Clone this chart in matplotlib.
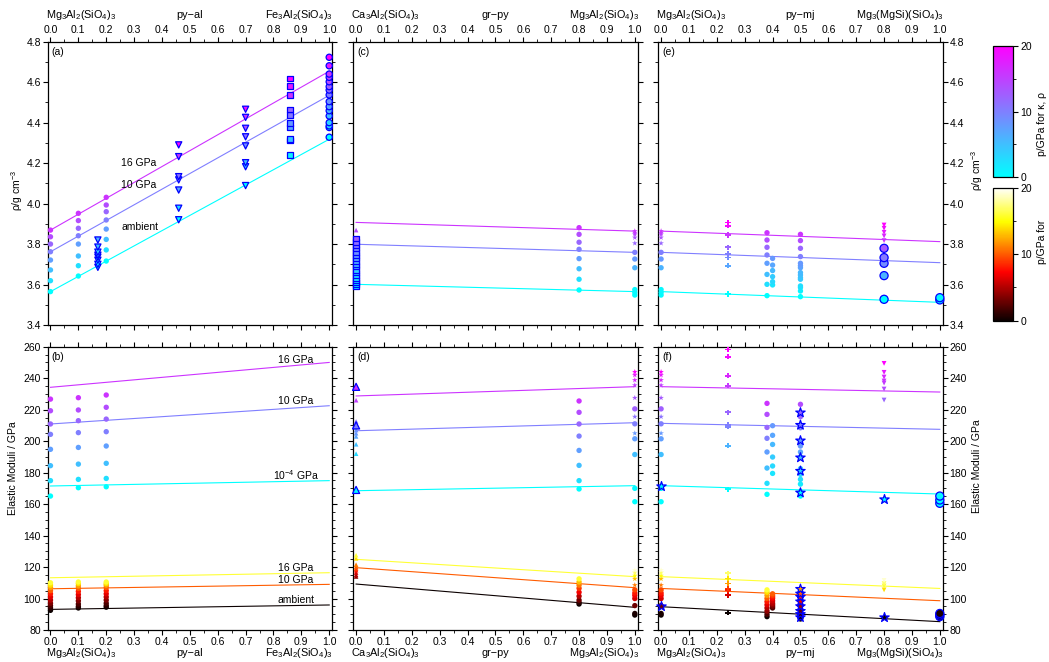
import numpy as np
import matplotlib
matplotlib.use('Agg')
import matplotlib.pyplot as plt
from matplotlib.ticker import MultipleLocator
from matplotlib.cm import ScalarMappable
from matplotlib.colors import Normalize

plt.rcParams['font.family'] = ['Liberation Sans', 'DejaVu Sans']
plt.rcParams['mathtext.default'] = 'regular'
plt.rcParams['font.size'] = 7.5
plt.rcParams['axes.linewidth'] = 0.9

### Data ###
# fitted trends: (pressure GPa, value at x=0, value at x=1)
a_lines = [(0, 3.565, 4.318), (10, 3.762, 4.535), (16, 3.869, 4.654)]
c_lines = [(0, 3.601, 3.565), (10, 3.799, 3.759), (16, 3.907, 3.864)]
e_lines = [(0, 3.565, 3.512), (10, 3.759, 3.708), (16, 3.864, 3.812)]
b_lines_K = [(0, 171.5, 174.9), (10, 210.9, 222.5), (16, 234.2, 250.0)]
b_lines_G = [(0, 93.1, 95.9), (10, 106.2, 109.0), (16, 113.2, 116.4)]
d_lines_K = [(0, 168.5, 171.7), (10, 206.6, 211.7), (16, 228.7, 234.6)]
d_lines_G = [(0, 109.2, 94.4), (10, 119.6, 106.9), (16, 124.9, 113.9)]
f_lines_K = [(0, 171.7, 166.4), (10, 211.3, 207.5), (16, 234.6, 231.2)]
f_lines_G = [(0, 94.8, 85.3), (10, 106.4, 98.6), (16, 113.9, 106.4)]

p8 = [0, 2.5, 5, 7.5, 10, 12, 14, 16]

# pyrope end-member, shared by the gr-py and py-mj joins
py_rho_dot = [3.548, 3.561, 3.575, 3.683, 3.726, 3.759]
py_rho_dot_p = [0, 0.3, 0.5, 6, 8, 10]
py_rho_star = [3.804, 3.832, 3.848, 3.856, 3.864]
py_rho_star_p = [12, 13.5, 14.5, 15.2, 16]
py_K_dot = [161.5, 170, 191.5, 201.5, 211, 220.5]
py_K_dot_p = [0, 0.5, 5, 7.5, 10, 12.5]
py_K_star = [205, 215.5, 227.5, 235.5, 238.8, 242, 244]
py_K_star_p = [8, 11, 13, 15, 17, 18, 20]
py_G_dot = [89.5, 90.5, 95.5, 100, 102, 103.5, 105.5]
py_G_dot_p = [0, 0.5, 3, 6, 7, 8, 9.5]
py_G_star = [108.5, 112.5, 114.5, 116.5, 118]
py_G_star_p = [11, 13, 15, 17, 19]

# (a) density, py-al
a_dot = [(0.0, [3.565, 3.619, 3.672, 3.721, 3.762, 3.80, 3.836, 3.869], p8),
         (0.1, [3.642, 3.693, 3.741, 3.80, 3.841, 3.878, 3.916, 3.952], p8),
         (0.2, [3.716, 3.771, 3.823, 3.874, 3.919, 3.96, 3.993, 4.031], p8)]
a_tri = [(0.17, [3.685, 3.70, 3.72, 3.735, 3.745, 3.76, 3.785, 3.82], [0, 0.5, 1, 2, 3, 4, 5, 6]),
         (0.46, [3.92, 3.977, 4.067, 4.117, 4.133, 4.232, 4.29], [0, 2.5, 7, 10, 11, 16, 20]),
         (0.70, [4.089, 4.182, 4.202, 4.285, 4.33, 4.372, 4.426, 4.466], [0, 4, 5, 9, 11, 13.5, 16, 19])]
a_sq = [(0.86, [4.24, 4.311, 4.319, 4.377, 4.397, 4.438, 4.466, 4.537, 4.581, 4.619],
         [1, 4, 4.5, 7, 8, 10.5, 12, 16, 18, 20])]
a_ring = [(1.0, [4.328, 4.376, 4.384, 4.40, 4.433, 4.459, 4.479, 4.504, 4.537, 4.561,
                 4.578, 4.602, 4.624, 4.64, 4.681, 4.723],
           [0, 2, 3, 3.5, 5, 6, 7, 8.5, 10, 11.5, 12.5, 14, 15, 16, 18, 20])]

# (b) elastic moduli, py-al
b_dot = [(0.0, [165.1, 174.9, 184.4, 194.8, 204.3, 210.9, 219.3, 226.7], p8),
         (0.1, [170.4, 175.7, 185.4, 196.0, 205.4, 213.0, 219.8, 227.6], p8),
         (0.2, [171.0, 176.3, 185.9, 196.9, 206.0, 214.0, 221.5, 229.3], p8)]
b_dot_G = [(0.0, [92.5, 94, 95.5, 97, 99, 101, 103, 105, 107, 108.5, 110],
            [0, 1, 2, 3.5, 5, 6.5, 8, 10, 12, 14, 16]),
           (0.1, [94, 95, 96.5, 98.5, 100.5, 102.5, 104.5, 106.5, 108, 109.5, 110.5],
            [0, 1, 2, 3.5, 5, 6.5, 8, 10, 12, 14, 16]),
           (0.2, [94.5, 95.5, 97, 99, 101, 103, 105, 107, 108.5, 109.5, 110.5],
            [0, 1, 2, 3.5, 5, 6.5, 8, 10, 12, 14, 16])]

# (c) density, gr-py
c_sq = [(0.0, [3.593, 3.60, 3.61, 3.62, 3.632, 3.645, 3.66, 3.672, 3.688, 3.70, 3.715,
               3.73, 3.745, 3.76, 3.777, 3.795, 3.81, 3.828],
         [0, 0.3, 0.7, 1.2, 2, 2.6, 3.3, 4, 4.8, 5.5, 6.3, 7, 7.8, 8.6, 9.5, 10.5, 11.3, 12.3])]
c_tri = [(0.0, [3.869], [14])]
c_dot = [(0.8, [3.573, 3.626, 3.678, 3.728, 3.774, 3.809, 3.848, 3.881], p8),
         (1.0, py_rho_dot, py_rho_dot_p)]
c_star = [(1.0, py_rho_star, py_rho_star_p)]

# (d) elastic moduli, gr-py
d_bigtri = [(0.0, [169.0, 210.0, 234.5], [0, 10, 16])]
d_tri = [(0.0, [192, 198, 203, 205, 207, 209, 212.5, 226], [3, 5, 7, 8, 8.5, 9.5, 11, 15])]
d_tri_G = [(0.0, [114, 115, 116.5, 118, 119, 120, 121.5, 125.5, 127.5], [4, 5, 6, 8, 9, 10, 11, 14, 16])]
d_dot = [(0.8, [169.6, 174.9, 184.6, 194.1, 203.2, 210.9, 218.3, 225.5], p8),
         (1.0, py_K_dot, py_K_dot_p)]
d_dot_G = [(0.8, [96.5, 97.5, 99, 101.5, 104, 106.5, 108.5, 110.5, 112.5], [0, 1, 3, 5, 7, 9, 11, 13, 16]),
           (1.0, py_G_dot, py_G_dot_p)]
d_star = [(1.0, py_K_star, py_K_star_p)]
d_star_G = [(1.0, py_G_star, py_G_star_p)]

# (e) density, py-mj
e_dot = [(0.0, py_rho_dot, py_rho_dot_p),
         (0.38, [3.545, 3.601, 3.65, 3.705, 3.746, 3.784, 3.82, 3.856], p8),
         (0.40, [3.598, 3.614, 3.639, 3.669, 3.696, 3.729], [2, 3, 4, 5.5, 7, 8]),
         (0.5, [3.54, 3.568, 3.585, 3.593, 3.626, 3.634, 3.647, 3.659, 3.683, 3.693, 3.705,
                3.738, 3.779, 3.817, 3.848],
          [0, 1, 2, 2.5, 4, 4.5, 5, 5.5, 7, 7.5, 8, 10, 12, 14, 16])]
e_star = [(0.0, py_rho_star, py_rho_star_p)]
e_plus = [(0.24, [3.553, 3.693, 3.733, 3.751, 3.784, 3.845, 3.891, 3.906], [0, 7, 9, 10, 12, 16, 19, 20])]
e_vtri = [(0.8, [3.817, 3.84, 3.858, 3.878, 3.894], [16, 17, 18, 19, 20])]
e_big = [(0.8, [3.527, 3.644, 3.705, 3.733, 3.779], [0, 6, 9, 10.5, 13]),
         (1.0, [3.524, 3.535], [0, 0.5])]

# (f) elastic moduli, py-mj
f_dot = [(0.0, py_K_dot, py_K_dot_p),
         (0.38, [166.2, 173.2, 182.9, 193.1, 201.8, 208.7, 217.0, 224.0], p8),
         (0.40, [179.5, 184.2, 189.9, 197.9, 203.7, 209.8], [2, 3, 4, 5.5, 7, 8]),
         (0.5, [165.1, 167.9, 172.7, 175.7, 178.9, 182.5, 190.1, 193.1, 196.9, 208.5, 215.5, 223.4],
          [0, 0.5, 1.5, 2.5, 3.5, 4.5, 6, 7, 8, 10, 12, 14])]
f_dot_G = [(0.0, py_G_dot, py_G_dot_p),
           (0.38, [88.5, 90, 92, 94, 96, 98, 100, 102, 104, 105.5], [0, 2, 4, 5, 6.5, 8, 10, 12, 14, 16]),
           (0.40, [94, 95, 96, 97, 98.5, 100, 101, 102, 103], [2, 3, 4, 5, 6, 7, 8, 9, 10]),
           (0.5, [87, 89, 91, 93, 95, 97, 99, 101, 103, 104], [0, 1, 2.5, 4, 5.5, 7, 8.5, 10, 11.5, 13])]
f_star = [(0.0, py_K_star, py_K_star_p)]
f_star_G = [(0.0, py_G_star, py_G_star_p)]
f_plus = [(0.24, [169.4, 197.1, 209.2, 210.2, 218.3, 235.2, 241.6, 253.6, 258.3],
           [0, 6, 9.5, 10, 12, 15.5, 17, 19, 20])]
f_plus_G = [(0.24, [91, 102.2, 105.4, 106.4, 109.6, 112.8, 116], [0, 6, 8, 9, 12, 14, 17])]
f_vtri = [(0.8, [226.1, 233.1, 236.9, 238.2, 240.7, 243.7, 249.4], [12, 14, 15, 16, 17, 18, 20])]
f_vtri_G = [(0.8, [105.5, 108, 109.5, 111.5], [14, 16, 17, 19])]
f_bstar = [(0.0, [171.5], [0]),
           (0.5, [167.2, 181.0, 189.5, 200.3, 210.2, 218.1], [0, 3, 5, 7.5, 10, 12]),
           (0.8, [163.2], [0])]
f_bstar_G = [(0.0, [95.2], [3]),
             (0.5, [88, 90, 92, 95, 98, 101, 103, 106], [0, 1, 2.5, 4.5, 6.5, 8.5, 10, 12]),
             (0.8, [88.5], [0])]
f_big = [(1.0, [160.5, 162.6, 165.1], [0, 0, 0.5])]
f_big_G = [(1.0, [88.5, 89.5, 90.5], [0, 0, 0.5])]

# marker styles: (marker, size, blue edge)
STY = {
    'dot': ('o', 15, False),
    'ring': ('o', 20, True),
    'big': ('o', 34, True),
    'tri': ('v', 20, True),
    'vtri': ('v', 12, False),
    'sq': ('s', 16, True),
    'star': ('*', 18, False),
    'bstar': ('*', 50, True),
    'ltri': ('^', 11, False),
    'bigtri': ('^', 26, True),
    'plus': ('P', 14, False),
}

W, H = 1049, 662
fig = plt.figure(figsize=(W / 100, H / 100), dpi=100)


def box(left, top, right, bottom):
    return [left / W, 1 - bottom / H, (right - left) / W, (bottom - top) / H]


ax_a = fig.add_axes(box(47.7, 41.7, 332, 325))
ax_b = fig.add_axes(box(47.7, 346.7, 332, 630))
ax_c = fig.add_axes(box(353.3, 41.7, 637.6, 325))
ax_d = fig.add_axes(box(353.3, 346.7, 637.6, 630))
ax_e = fig.add_axes(box(658.3, 41.7, 942.6, 325))
ax_f = fig.add_axes(box(658.3, 346.7, 942.6, 630))


def draw_lines(ax, lines, cmap):
    for p, y0, y1 in lines:
        ax.plot([0, 1], [y0, y1], color=plt.get_cmap(cmap)(p / 20), lw=0.8, zorder=2)


def draw_pts(ax, series, style, cmap):
    marker, s, edge = STY[style]
    for x, vals, ps in series:
        ax.scatter(np.full(len(vals), x), vals, c=ps, cmap=cmap, vmin=0, vmax=20,
                   marker=marker, s=s, edgecolors='#0000ff' if edge else 'none',
                   linewidths=0.9 if edge else 0, zorder=3, clip_on=False)


def setup(ax, top, yside, ylim, ymaj, ymin, letter):
    ax.set_xlim(-0.01, 1.01)
    ax.set_ylim(*ylim)
    ax.xaxis.set_major_locator(MultipleLocator(0.1))
    ax.xaxis.set_minor_locator(MultipleLocator(0.05))
    ax.yaxis.set_major_locator(MultipleLocator(ymaj))
    ax.yaxis.set_minor_locator(MultipleLocator(ymin))
    ax.tick_params(which='both', direction='out', top=True, right=True, bottom=True, left=True,
                   labeltop=top, labelbottom=not top,
                   labelleft=(yside == 'left'), labelright=(yside == 'right'),
                   labelsize=7.5, pad=1.5)
    ax.tick_params(which='major', length=3.5, width=0.8)
    ax.tick_params(which='minor', length=2, width=0.6)
    ax.text(0.014, 0.963, letter, transform=ax.transAxes, ha='left', va='center', fontsize=7.5)


def names(ax, top, left, mid, right):
    y = 1.083 if top else -0.093
    ax.text(-0.007, y, left, transform=ax.transAxes, ha='left', va='baseline', fontsize=7.8)
    ax.text(0.5, y, mid, transform=ax.transAxes, ha='center', va='baseline', fontsize=7.8)
    ax.text(1.004, y, right, transform=ax.transAxes, ha='right', va='baseline', fontsize=7.8)


PY = r'Mg$_3$Al$_2$(SiO$_4$)$_3$'
AL = r'Fe$_3$Al$_2$(SiO$_4$)$_3$'
GR = r'Ca$_3$Al$_2$(SiO$_4$)$_3$'
MJ = r'Mg$_3$(MgSi)(SiO$_4$)$_3$'

setup(ax_a, True, 'left', (3.4, 4.8), 0.2, 0.1, '(a)')
setup(ax_c, True, 'none', (3.4, 4.8), 0.2, 0.1, '(c)')
setup(ax_e, True, 'right', (3.4, 4.8), 0.2, 0.1, '(e)')
setup(ax_b, False, 'left', (80, 260), 20, 5, '(b)')
setup(ax_d, False, 'none', (80, 260), 20, 5, '(d)')
setup(ax_f, False, 'right', (80, 260), 20, 5, '(f)')

names(ax_a, True, PY, 'py\u2212al', AL)
names(ax_b, False, PY, 'py\u2212al', AL)
names(ax_c, True, GR, 'gr\u2212py', PY)
names(ax_d, False, GR, 'gr\u2212py', PY)
names(ax_e, True, PY, 'py\u2212mj', MJ)
names(ax_f, False, PY, 'py\u2212mj', MJ)

# (a)
draw_lines(ax_a, a_lines, 'cool')
draw_pts(ax_a, a_dot, 'dot', 'cool')
draw_pts(ax_a, a_tri, 'tri', 'cool')
draw_pts(ax_a, a_sq, 'sq', 'cool')
draw_pts(ax_a, a_ring, 'ring', 'cool')
ax_a.text(0.253, 4.202, '16 GPa', ha='left', va='center')
ax_a.text(0.253, 4.09, '10 GPa', ha='left', va='center')
ax_a.text(0.253, 3.886, 'ambient', ha='left', va='center')

# (b)
draw_lines(ax_b, b_lines_K, 'cool')
draw_lines(ax_b, b_lines_G, 'hot')
draw_pts(ax_b, b_dot, 'dot', 'cool')
draw_pts(ax_b, b_dot_G, 'dot', 'hot')
for txt, y in [('16 GPa', 251.5), ('10 GPa', 225.5), ('10$^{-4}$ GPa', 178.5),
               ('16 GPa', 119.2), ('10 GPa', 111.7), ('ambient', 99.0)]:
    ax_b.text(0.88, y, txt, ha='center', va='center')

# (c)
draw_lines(ax_c, c_lines, 'cool')
draw_pts(ax_c, c_sq, 'sq', 'cool')
draw_pts(ax_c, c_tri, 'ltri', 'cool')
draw_pts(ax_c, c_dot, 'dot', 'cool')
draw_pts(ax_c, c_star, 'star', 'cool')

# (d)
draw_lines(ax_d, d_lines_K, 'cool')
draw_lines(ax_d, d_lines_G, 'hot')
draw_pts(ax_d, d_tri, 'ltri', 'cool')
draw_pts(ax_d, d_bigtri, 'bigtri', 'cool')
draw_pts(ax_d, d_tri_G, 'ltri', 'hot')
draw_pts(ax_d, d_dot, 'dot', 'cool')
draw_pts(ax_d, d_dot_G, 'dot', 'hot')
draw_pts(ax_d, d_star, 'star', 'cool')
draw_pts(ax_d, d_star_G, 'star', 'hot')

# (e)
draw_lines(ax_e, e_lines, 'cool')
draw_pts(ax_e, e_dot, 'dot', 'cool')
draw_pts(ax_e, e_star, 'star', 'cool')
draw_pts(ax_e, e_plus, 'plus', 'cool')
draw_pts(ax_e, e_vtri, 'vtri', 'cool')
draw_pts(ax_e, e_big, 'big', 'cool')

# (f)
draw_lines(ax_f, f_lines_K, 'cool')
draw_lines(ax_f, f_lines_G, 'hot')
draw_pts(ax_f, f_dot, 'dot', 'cool')
draw_pts(ax_f, f_dot_G, 'dot', 'hot')
draw_pts(ax_f, f_star, 'star', 'cool')
draw_pts(ax_f, f_star_G, 'star', 'hot')
draw_pts(ax_f, f_plus, 'plus', 'cool')
draw_pts(ax_f, f_plus_G, 'plus', 'hot')
draw_pts(ax_f, f_vtri, 'vtri', 'cool')
draw_pts(ax_f, f_vtri_G, 'vtri', 'hot')
draw_pts(ax_f, f_bstar, 'bstar', 'cool')
draw_pts(ax_f, f_bstar_G, 'bstar', 'hot')
draw_pts(ax_f, f_big, 'big', 'cool')
draw_pts(ax_f, f_big_G, 'big', 'hot')

# axis titles
fig.text(16.7 / W, 1 - 190 / H, r'ρ/g cm$^{-3}$', rotation=90, ha='center', va='center')
fig.text(13.3 / W, 1 - 468 / H, 'Elastic Moduli / GPa', rotation=90, ha='center', va='center')
fig.text(977 / W, 1 - 170 / H, r'ρ/g cm$^{-3}$', rotation=90, ha='center', va='center')
fig.text(977 / W, 1 - 466 / H, 'Elastic Moduli / GPa', rotation=90, ha='center', va='center')

# pressure colour scales
for cmap, top, bottom in [('cool', 45.7, 177.3), ('hot', 187.7, 320.7)]:
    cax = fig.add_axes(box(993, top, 1013, bottom))
    cb = fig.colorbar(ScalarMappable(Normalize(0, 20), cmap=cmap), cax=cax)
    cb.set_ticks([0, 10, 20])
    cb.ax.yaxis.set_minor_locator(MultipleLocator(5))
    cb.ax.tick_params(which='major', length=3.5, width=0.8, labelsize=7.5, pad=2)
    cb.ax.tick_params(which='minor', length=2, width=0.6)
    cb.outline.set_linewidth(0.9)
fig.text(1041.7 / W, 1 - 123.5 / H, 'p/GPa for κ, ρ', rotation=90, ha='center', va='center')
fig.text(1041.7 / W, 1 - 242 / H, 'p/GPa for', rotation=90, ha='center', va='center')

fig.savefig('out.png', dpi=100)
